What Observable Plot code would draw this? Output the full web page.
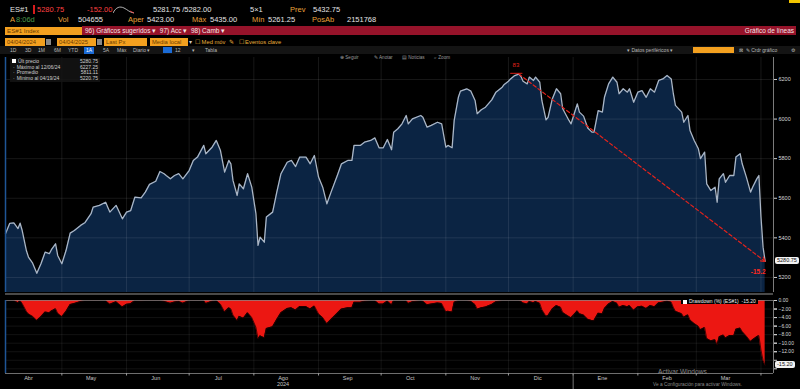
<!DOCTYPE html>
<html><head><meta charset="utf-8">
<script src="https://cdn.jsdelivr.net/npm/d3@7"></script>
<script src="https://cdn.jsdelivr.net/npm/@observablehq/plot@0.6"></script>
<style>
html,body{margin:0;padding:0;background:#000;}
#root{position:relative;width:800px;height:389px;overflow:hidden;background:#000;font-family:"Liberation Sans",Arial,sans-serif;color:#ddd;}
.t{position:absolute;white-space:nowrap;line-height:1;}
.r2{top:6px;font-size:7.5px;color:#e4e4e4;}
.r3{top:16px;font-size:7.5px;color:#e4e4e4;}
.o{color:#e9a23b;}
.ob{position:absolute;top:38px;height:8px;background:#f3a01f;color:#6b3c00;font-size:5.8px;line-height:8px;padding-left:2px;box-sizing:border-box;white-space:nowrap;}
.r6{top:48px;font-size:5px;color:#b8b8b8;}
.tb{top:56px;font-size:4.6px;color:#9a9a9a;}
#main{position:absolute;left:0;top:55px;}
#dd{position:absolute;left:0;top:295px;}
</style></head>
<body><div id="root">
 <div style="position:absolute;left:789px;top:0;width:11px;height:3px;background:#f2c500"></div>
 <!-- row 2 -->
 <div class="t r2" style="left:10px">ES#1</div>
 <div style="position:absolute;left:33px;top:5px;width:2px;height:9px;background:#d91c1c"></div>
 <div class="t r2" style="left:37px;color:#ff4040">5280.75</div>
 <div class="t r2" style="left:87px;color:#ff4040">-152.00</div>
 <svg style="position:absolute;left:113px;top:5px" width="22" height="9"><path d="M0,8 C3,2 7,1 11,3 S16,7 21,8" fill="none" stroke="#ddd" stroke-width="0.8"/><path d="M17,6 L21,8" stroke="#ff4040" stroke-width="0.8"/></svg>
 <div class="t r2" style="left:153px">5281.75 /5282.00</div>
 <div class="t r2" style="left:250px">5×1</div>
 <div class="t r2 o" style="left:290px">Prev</div>
 <div class="t r2" style="left:313px">5432.75</div>
 <!-- row 3 -->
 <div class="t r3 o" style="left:10px">A</div>
 <div class="t r3" style="left:16px;color:#4a9a4a">8:06d</div>
 <div class="t r3 o" style="left:58px">Vol</div>
 <div class="t r3" style="left:78px">504655</div>
 <div class="t r3 o" style="left:128px">Aper</div>
 <div class="t r3" style="left:147px">5423.00</div>
 <div class="t r3 o" style="left:192px">Máx</div>
 <div class="t r3" style="left:210px">5435.00</div>
 <div class="t r3 o" style="left:252px">Mín</div>
 <div class="t r3" style="left:268px">5261.25</div>
 <div class="t r3 o" style="left:312px">PosAb</div>
 <div class="t r3" style="left:347px">2151768</div>
 <!-- row 4 -->
 <div style="position:absolute;left:82px;top:26px;width:714px;height:9px;background:#96132a"></div>
 <div class="ob" style="left:5px;top:27px;width:77px;height:8px;line-height:8px;font-size:6.2px">ES#1 Index</div>
 <div class="t" style="left:85px;top:27.5px;font-size:6.5px;color:#f4e4e6">96) Gráficos sugeridos ▾ &nbsp;97) Acc ▾ &nbsp;98) Camb ▾</div>
 <div class="t" style="right:6px;top:27.5px;font-size:6.5px;color:#f4e4e6">Gráfico de líneas</div>
 <!-- row 5 -->
 <div class="ob" style="left:5px;width:40px">04/04/2024</div>
 <div style="position:absolute;left:46px;top:39px;width:5px;height:6px;background:#888"></div>
 <div class="ob" style="left:57px;width:39px">04/04/2025</div>
 <div style="position:absolute;left:97px;top:39px;width:5px;height:6px;background:#888"></div>
 <div class="ob" style="left:104px;width:43px">Last Px</div>
 <div class="ob" style="left:150px;width:38px">Media local</div>
 <div class="t" style="left:189px;top:39.5px;font-size:5.5px;color:#ccc">▾</div>
 <div class="t" style="left:195px;top:39.5px;font-size:5.8px;color:#e9b03b">☐ Med móv&nbsp;&nbsp;✎&nbsp;&nbsp;&nbsp;☐ Eventos clave</div>
 <!-- row 6 -->
 <div style="position:absolute;left:0;top:46px;width:800px;height:8px;background:#141414"></div>
 <div class="t r6" style="left:10px">1D</div>
 <div class="t r6" style="left:25px">3D</div>
 <div class="t r6" style="left:38px">1M</div>
 <div class="t r6" style="left:54px">6M</div>
 <div class="t r6" style="left:68px">YTD</div>
 <div class="t r6" style="left:84px;top:47px;background:#1b6bd6;color:#fff;padding:1px 2px">1A</div>
 <div class="t r6" style="left:103px">5A</div>
 <div class="t r6" style="left:117px">Máx</div>
 <div class="t r6" style="left:133px">Diario ▾</div>
 <div style="position:absolute;left:163px;top:47px;width:9px;height:6px;background:#1b6bd6"></div>
 <div class="t r6" style="left:175px">12</div>
 <div class="t r6" style="left:192px">▾</div>
 <div class="t r6" style="left:205px">Tabla</div>
 <div class="t r6" style="left:627px">▾ Datos periféricos ▾</div>
 <div style="position:absolute;left:693px;top:47px;width:41px;height:6px;background:#f3a01f"></div>
 <div class="t r6" style="left:739px">⊠&nbsp; ✎ Crdr gráfico</div>
 <div class="t r6" style="left:791px">⚙</div>
 <!-- chart toolbar -->
 <div class="t tb" style="left:340px">⊕ Seguir</div>
 <div class="t tb" style="left:374px">✎ Anotar</div>
 <div class="t tb" style="left:402px">▤ Noticias</div>
 <div class="t tb" style="left:434px">⌕ Zoom</div>

 <div id="main"></div>
 <div style="position:absolute;left:5px;top:292.5px;width:768px;height:2px;background:#4a4a4a"></div>
 <div id="dd"></div>
 <div id="overlay"></div>
 <div class="t" style="left:658px;top:368.5px;font-size:6.6px;color:#8a8a8a">Activar Windows</div>
 <div class="t" style="left:653px;top:382.5px;font-size:4.8px;color:#8a8a8a">Ve a Configuración para activar Windows.</div>
</div>
<script>
// ---------- data ----------
const dates = [
"2024-04-04","2024-04-06","2024-04-08","2024-04-10","2024-04-11","2024-04-12","2024-04-14","2024-04-15","2024-04-17","2024-04-19",
"2024-04-21","2024-04-23","2024-04-25","2024-04-26","2024-04-28","2024-04-29","2024-05-01","2024-05-03","2024-05-05","2024-05-07",
"2024-05-10","2024-05-12","2024-05-15","2024-05-16","2024-05-19","2024-05-22","2024-05-23","2024-05-24","2024-05-27","2024-05-28",
"2024-05-30","2024-06-01","2024-06-03","2024-06-05","2024-06-08","2024-06-10","2024-06-12","2024-06-15","2024-06-17","2024-06-19",
"2024-06-20","2024-06-22","2024-06-24","2024-06-26","2024-06-28","2024-07-01","2024-07-03","2024-07-05","2024-07-08","2024-07-09",
"2024-07-12","2024-07-14","2024-07-16","2024-07-18","2024-07-20","2024-07-21","2024-07-22","2024-07-24","2024-07-25","2024-07-27",
"2024-07-29","2024-07-31","2024-08-02","2024-08-03","2024-08-04","2024-08-06","2024-08-07","2024-08-10","2024-08-12","2024-08-14",
"2024-08-17","2024-08-19","2024-08-21","2024-08-23","2024-08-26","2024-08-28","2024-08-30","2024-09-01","2024-09-03","2024-09-05",
"2024-09-07","2024-09-10","2024-09-12","2024-09-15","2024-09-17","2024-09-18","2024-09-21","2024-09-23","2024-09-26","2024-09-28",
"2024-09-30","2024-10-02","2024-10-04","2024-10-06","2024-10-07","2024-10-09","2024-10-11","2024-10-13","2024-10-14","2024-10-16",
"2024-10-20","2024-10-21","2024-10-23","2024-10-25","2024-10-28","2024-10-30","2024-11-01","2024-11-02","2024-11-04","2024-11-05",
"2024-11-07","2024-11-08","2024-11-11","2024-11-13","2024-11-15","2024-11-16","2024-11-18","2024-11-20","2024-11-23","2024-11-25",
"2024-11-28","2024-11-29","2024-12-01","2024-12-02","2024-12-04","2024-12-06","2024-12-07","2024-12-08","2024-12-10","2024-12-11",
"2024-12-13","2024-12-14","2024-12-16","2024-12-17","2024-12-19","2024-12-20","2024-12-22","2024-12-24","2024-12-26","2024-12-27",
"2024-12-30","2024-12-31","2025-01-02","2025-01-03","2025-01-04","2025-01-06","2025-01-08","2025-01-10","2025-01-11","2025-01-13",
"2025-01-15","2025-01-16","2025-01-18","2025-01-20","2025-01-22","2025-01-23","2025-01-25","2025-01-27","2025-01-28","2025-01-30",
"2025-02-01","2025-02-03","2025-02-05","2025-02-07","2025-02-09","2025-02-11","2025-02-13","2025-02-15","2025-02-17","2025-02-18",
"2025-02-19","2025-02-22","2025-02-23","2025-02-25","2025-02-26","2025-02-28","2025-03-02","2025-03-03","2025-03-05","2025-03-06",
"2025-03-08","2025-03-10","2025-03-11","2025-03-12","2025-03-14","2025-03-15","2025-03-17","2025-03-19","2025-03-20","2025-03-22",
"2025-03-23","2025-03-25","2025-03-27","2025-03-28","2025-03-30","2025-03-31","2025-04-01","2025-04-02","2025-04-03"];
const prices = [
5421,5473,5476,5447,5474,5437,5336,5303,5272,5220.75,
5269,5328,5320,5340,5370,5311,5269,5336,5424,5437,
5463,5476,5522,5555,5564,5580,5555,5530,5564,5542,
5496,5530,5538,5606,5602,5631,5670,5686,5735,5724,
5715,5698,5715,5724,5698,5740,5791,5808,5867,5825,
5858,5892,5841,5732,5791,5774,5690,5614,5673,5648,
5724,5656,5522,5362,5404,5378,5505,5530,5631,5724,
5782,5791,5760,5808,5808,5774,5816,5707,5656,5572,
5631,5715,5774,5791,5791,5867,5867,5883,5892,5905,
5855,5855,5897,5845,5934,5951,5976,6018,5976,6001,
6018,6009,5959,5968,5984,5976,5858,5867,5855,5993,
6110,6141,6153,6141,6094,6027,6047,6060,6097,6136,
6161,6175,6191,6203,6220,6227.25,6215,6191,6178,6212,
6195,6212,6186,6094,5996,6009,6102,6153,6128,6052,
5993,5976,6043,6077,6035,6015,5955,5934,5934,6043,
6035,6110,6178,6212,6186,6128,6153,6136,6153,6085,
6136,6144,6110,6153,6136,6195,6203,6220,6203,6128,
6069,6035,5984,6018,5942,5892,5850,5800,5833,5673,
5639,5656,5580,5698,5724,5681,5715,5715,5808,5825,
5774,5707,5631,5656,5698,5715,5505,5353,5280.75];

const priceTicks = [5200, 5400, 5600, 5800, 6000, 6200];
const ddTicks = [0, -2, -4, -6, -8, -10, -12];
const ddGrid = [0, -2, -4, -6, -8, -10, -12, -14, -16];
const monthNames = ["Abr","May","Jun","Jul","Ago","Sep","Oct","Nov","Dic","Ene","Feb","Mar"];
const yearLabels = [{label: "2024", month: "Ago"}];
const legendLabels = ["Últ precio", "Máximo al 12/06/24", "Promedio", "Mínimo al 04/19/24"];
const legendValues = ["5280.75", "6227.25", "5811.11", "5220.75"];
const peakLabel = "83";
const xEnd = "2025-04-07";
const yDomain = [5124, 6311];
const ddDomain = [-17.1, 0];

// ---------- derived tables ----------
const data = dates.map((d, i) => ({date: new Date(d), price: prices[i]}));
let runMax = -Infinity;
const dd = data.map(d => { runMax = Math.max(runMax, d.price); return {date: d.date, dd: (d.price / runMax - 1) * 100}; });
const xDomain = [data[0].date, new Date(xEnd)];
const monthStarts = d3.utcMonth.range(d3.utcMonth.ceil(xDomain[0]), xDomain[1]);
const monthMid = d3.utcMonth.range(d3.utcMonth.floor(xDomain[0]), d3.utcMonth.floor(data[data.length-1].date))
  .map((m, i) => ({date: d3.utcDay.offset(m, 14), label: monthNames[i]}));
const yearMarks = yearLabels.map(y => ({date: monthMid.find(m => m.label === y.month).date, label: y.label}));
const yearStart = monthStarts.filter(d => d.getUTCMonth() === 0);
const peak = data.reduce((a, b) => b.price > a.price ? b : a);
const last = data[data.length - 1];
const lastDD = dd[dd.length - 1].dd;

const font = "Liberation Sans, Arial, sans-serif";

const main = Plot.plot({
  width: 800, height: 240,
  marginLeft: 5, marginRight: 27, marginTop: 2, marginBottom: 3,
  style: {background: "transparent", color: "#d8d8d8", fontFamily: font, fontSize: "5.5px"},
  x: {type: "utc", domain: xDomain, axis: null},
  y: {domain: yDomain, axis: null, label: null},
  marks: [
    Plot.areaY(data, {x: "date", y1: yDomain[0], y2: "price", fill: "#0b2443"}),
    Plot.ruleY(priceTicks, {stroke: "#ffffff", strokeOpacity: 0.09}),
    Plot.ruleX(monthStarts, {stroke: "#ffffff", strokeOpacity: 0.09}),
    Plot.lineY(data, {x: "date", y: "price", stroke: "#aab6c6", strokeWidth: 1.3}),
    Plot.ruleX([xDomain[0]], {stroke: "#1f5596", strokeWidth: 1.5}),
    Plot.ruleX([xDomain[1]], {stroke: "#9a9a9a", strokeWidth: 0.8}),
    Plot.axisY(priceTicks, {anchor: "right", label: null, tickSize: 3, tickPadding: 2, tickFormat: d => String(d), stroke: "#cfcfcf", fill: "#d8d8d8", fontSize: 5.5}),
    Plot.arrow([{a: peak, b: last}], {x1: d => d.a.date, y1: d => d.a.price, x2: d => d.b.date, y2: d => d.b.price,
      stroke: "#e3231c", strokeWidth: 1.2, strokeDasharray: "3.5,2.5", headLength: 6}),
    Plot.text([peak], {x: "date", y: "price", text: () => "━━━━", fill: "#e3231c", fontSize: 5, dx: -3, dy: -1}),
    Plot.text([peak], {x: "date", y: "price", text: () => peakLabel, fill: "#e3231c", fontSize: 6, dx: -3, dy: -9}),
    Plot.text([last], {x: "date", y: "price", text: () => lastDD.toFixed(1), fill: "#ff2a20", fontSize: 6.5, fontWeight: "bold", dx: -7, dy: 10})
  ]
});
document.getElementById("main").appendChild(main);

const ddPlot = Plot.plot({
  width: 800, height: 94,
  marginLeft: 5, marginRight: 27, marginTop: 5, marginBottom: 16,
  style: {background: "transparent", color: "#d8d8d8", fontFamily: font, fontSize: "5px"},
  x: {type: "utc", domain: xDomain, axis: null},
  y: {domain: ddDomain, axis: null, label: null},
  marks: [
    Plot.ruleY(ddGrid, {stroke: "#ffffff", strokeOpacity: 0.07}),
    Plot.ruleX(monthStarts, {stroke: "#ffffff", strokeOpacity: 0.07}),
    Plot.areaY(dd, {x: "date", y1: 0, y2: "dd", fill: "#ec1712"}),
    Plot.lineY(dd, {x: "date", y: "dd", stroke: "#2a0000", strokeWidth: 0.8}),
    Plot.ruleY([0], {stroke: "#8a8a8a", strokeWidth: 0.7}),
    Plot.ruleY([ddDomain[0]], {stroke: "#8a8a8a", strokeWidth: 0.8}),
    Plot.ruleX([xDomain[0]], {stroke: "#1f5596", strokeWidth: 1.5}),
    Plot.ruleX([xDomain[1]], {stroke: "#9a9a9a", strokeWidth: 0.8}),
    Plot.axisY(ddGrid, {anchor: "right", label: null, tickSize: 3, tickFormat: () => "", stroke: "#cfcfcf"}),
    Plot.axisY(ddTicks, {anchor: "right", label: null, tickSize: 3, tickPadding: 2, tickFormat: d3.format(".2f"), stroke: "#cfcfcf", fill: "#d8d8d8", fontSize: 5}),
    Plot.axisX(monthStarts, {anchor: "bottom", label: null, tickSize: 2.5, tickFormat: () => "", stroke: "#9a9a9a"}),
    Plot.axisX(yearStart, {anchor: "bottom", label: null, tickSize: 16, tickFormat: () => "", stroke: "#777"}),
    Plot.text(monthMid, {x: "date", frameAnchor: "bottom", dy: 6, text: "label", fill: "#c8c8c8", fontSize: 5.5}),
    Plot.text(yearMarks, {x: "date", frameAnchor: "bottom", dy: 12.5, text: "label", fill: "#c8c8c8", fontSize: 5.5})
  ]
});
document.getElementById("dd").appendChild(ddPlot);

// ---------- overlays positioned through the plot scales ----------
const ov = document.getElementById("overlay");
function box(html, style) { const d = document.createElement("div"); d.className = "t"; d.innerHTML = html; Object.assign(d.style, style); ov.appendChild(d); return d; }

const py = 55 + main.scale("y").apply(last.price);
box(last.price.toFixed(2), {left: "775px", top: (py - 3.5) + "px", height: "7px", lineHeight: "7px", padding: "0 2px", background: "#f2f2f2", color: "#111", fontSize: "5.5px", borderRadius: "2px"});
const dy = 295 + ddPlot.scale("y").apply(lastDD);
box(lastDD.toFixed(2), {left: "775px", top: (dy - 3.5) + "px", height: "7px", lineHeight: "7px", padding: "0 2px", background: "#f2f2f2", color: "#111", fontSize: "5.5px", borderRadius: "2px"});
box('<span style="display:inline-block;width:4px;height:4px;background:#fff;margin-right:2px;vertical-align:middle"></span>Drawdown (%) (ES#1)&nbsp;&nbsp;' + lastDD.toFixed(2),
  {left: "681px", top: "298px", height: "6px", lineHeight: "6px", padding: "0 2px", background: "#000", color: "#eee", fontSize: "5px"});

// legend box
const lg = document.createElement("div");
Object.assign(lg.style, {position: "absolute", left: "10px", top: "58px", width: "86px", background: "rgba(20,20,20,0.85)", padding: "1px 2px", fontSize: "5px", color: "#cfcfcf", lineHeight: "5.6px"});
lg.innerHTML = legendLabels.map((l, i) =>
  `<div style="display:flex;justify-content:space-between"><span>${i === 0 ? '<span style="display:inline-block;width:4px;height:4px;background:#fff;margin-right:2px"></span>' : '<span style="margin:0 2px 0 1px">·</span>'}${l}</span><span>${legendValues[i]}</span></div>`).join("");
ov.appendChild(lg);
</script>
</body></html>
